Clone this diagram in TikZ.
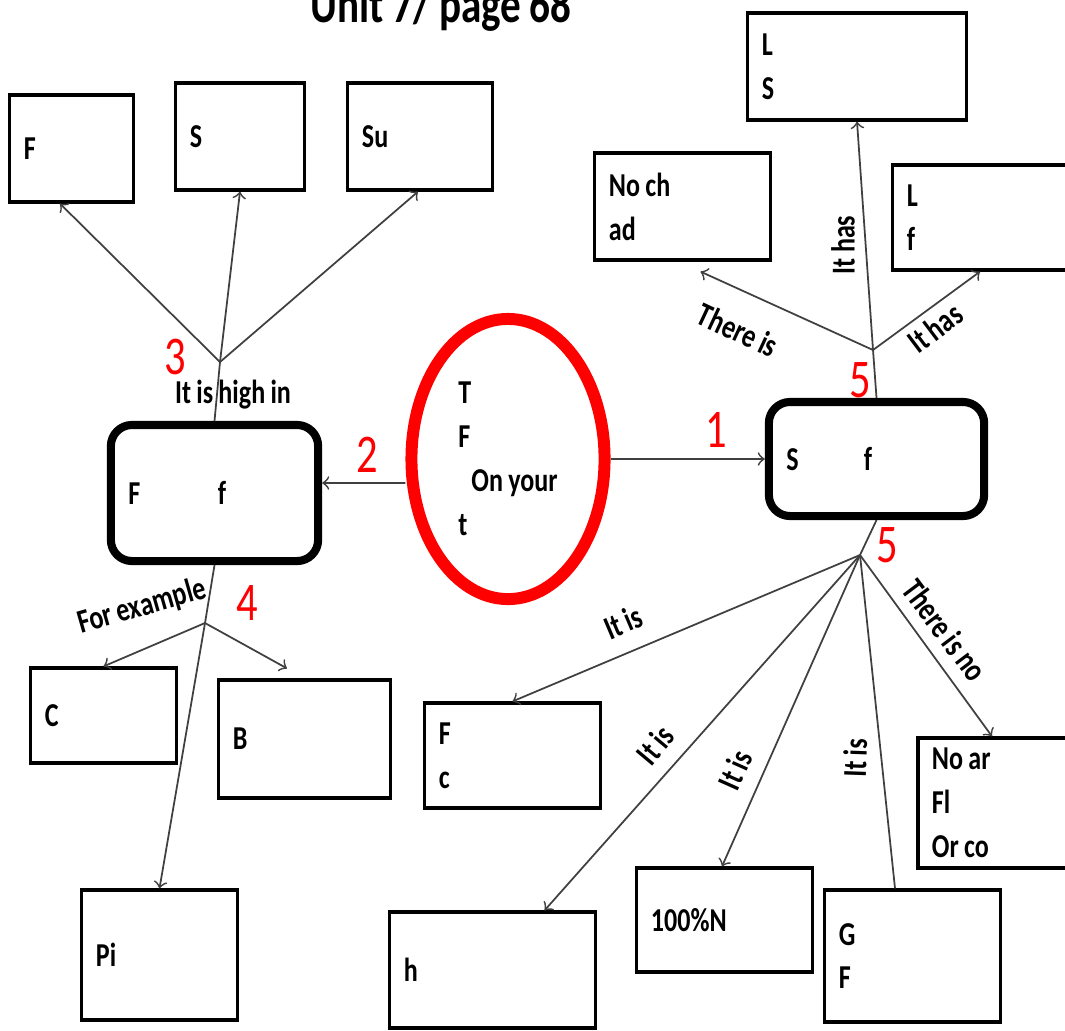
\documentclass[tikz,border=0pt]{standalone}
\usepackage{fontspec}
\setmainfont{Carlito}[FakeStretch=0.78, WordSpace=0.9]
\usetikzlibrary{shapes.geometric}

\begin{document}
\begin{tikzpicture}[x=0.01cm, y=-0.01cm,
    every node/.style={font=\fontsize{9.5}{12.5}\selectfont\bfseries, execute at begin node={\spaceskip=0pt\relax}},
    box/.style={draw, line width=0.9pt, align=left, inner xsep=4pt, inner ysep=0pt},
    rbox/.style={draw, line width=2.3pt, rounded corners=6pt, align=left, inner xsep=5pt, inner ysep=0pt},
    num/.style={text=red, font=\fontsize{15.5}{17}\selectfont},
    lbl/.style={inner sep=1pt},
    arr/.style={->, draw=black!75, line width=0.5pt},
    link/.style={draw=black!75, line width=0.5pt}]
				\useasboundingbox (0,0) rectangle (1065,1030);
				\node[anchor=base] (title) at (441,22) {\fontsize{15}{17}\selectfont\bfseries Unit 7/ page 68};

				% centre
				\node[ellipse, draw=red, line width=3.4pt, minimum width=1.93cm, minimum height=2.80cm, align=left, inner sep=0pt] (circ) at (508,459) {T\\F\\\hspace*{3.7pt}On your\hspace*{8.5pt}\\t};
				\node[rbox, text width=1.72cm, minimum height=1.36cm] (rndF) at (214.5,493) {F\hspace{22pt}f};
				\node[rbox, text width=1.80cm, minimum height=1.14cm] (rndS) at (876.5,459) {S\hspace{18.5pt}f};
				\draw[arr] ([yshift=-0.24cm]circ.west) -- ([yshift=0.1cm]rndF.east);
				\draw[arr] (circ.east) -- (rndS.west);
				\node[num] (n2) at (367,455) {2};
				\node[num] (n1) at (716,430) {1};

				% left top
				\node[box, text width=0.95cm, minimum height=1.07cm] (boxF) at (71.5,148.5) {F};
				\node[box, text width=1.00cm, minimum height=1.07cm] (boxS) at (240,136.5) {S};
				\node[box, text width=1.16cm, minimum height=1.07cm] (boxSu) at (420,136.5) {Su};
				\coordinate (fanL) at (220,362);
				\draw[link] (rndF.north) -- (fanL);
				\draw[arr] (fanL) -- ([xshift=-0.115cm]boxF.south);
				\draw[arr] (fanL) -- (boxS.south);
				\draw[arr] (fanL) -- ([xshift=-0.02cm]boxSu.south);
				\node[num] (n3) at (175,357) {3};
				\node[lbl] (highIn) at (233,395) {It is high in};

				% left bottom
				\node[box, text width=1.17cm, minimum height=0.95cm] (boxC) at (103.5,715.5) {C};
				\node[box, text width=1.43cm, minimum height=1.18cm] (boxB) at (304.5,739) {B};
				\node[box, text width=1.27cm, minimum height=1.30cm] (boxPi) at (159.5,955) {Pi};
				\coordinate (fanE) at (205,623);
				\draw[arr] (rndF.south) -- (fanE) -- (boxPi.north);
				\draw[arr] (fanE) -- (boxC.north);
				\draw[arr] (fanE) -- ([xshift=-0.175cm, yshift=0.1cm]boxB.north);
				\node[lbl, rotate=16] (forEx) at (142,607) {For example};
				\node[num] (n4) at (247,603) {4};

				% right top
				\node[box, text width=1.90cm, minimum height=1.07cm] (boxLS) at (857,66.5) {L\\S};
				\node[box, text width=1.47cm, minimum height=1.07cm] (boxNoch) at (682.5,206.5) {No ch\\ad};
				\node[box, text width=1.54cm, minimum height=1.05cm] (boxLf) at (984,217.5) {L\\f};
				\coordinate (fanR) at (873,350);
				\draw[link] (rndS.north) -- (fanR);
				\draw[arr] (fanR) -- ([xshift=0.18cm, yshift=-0.1cm]boxNoch.south);
				\draw[arr] (fanR) -- (boxLS.south);
				\draw[arr] (fanR) -- ([xshift=-0.04cm]boxLf.south);
				\node[lbl, rotate=-25] (thereIs) at (738,330) {There is};
				\node[lbl, rotate=90] (hasUp) at (843,245) {It has};
				\node[lbl, rotate=37] (hasRight) at (935,328) {It has};
				\node[num] (n5a) at (860,380) {5};

				% right bottom
				\node[box, text width=1.47cm, minimum height=1.05cm] (boxFc) at (512.5,755.5) {F\\c};
				\node[box, text width=1.77cm, minimum height=1.16cm] (boxH) at (492.5,970) {h};
				\node[box, text width=1.47cm, minimum height=1.04cm] (boxN) at (724.5,920) {100\%N};
				\node[box, text width=1.47cm, minimum height=1.32cm] (boxGF) at (912.5,956) {G\\F};
				\node[box, text width=1.29cm, minimum height=1.30cm] (boxNoar) at (996.5,803) {No ar\\Fl\\Or co};
				\coordinate (fanB) at (860,555);
				\draw[link] (rndS.south) -- (fanB);
				\draw[arr] (fanB) -- (boxFc.north);
				\draw[arr] (fanB) -- ([xshift=0.52cm]boxH.north);
				\draw[arr] (fanB) -- ([xshift=-0.025cm]boxN.north);
				\draw[link] (fanB) -- ([xshift=-0.175cm]boxGF.north);
				\draw[arr] (fanB) -- ([xshift=-0.045cm]boxNoar.north);
				\node[lbl, rotate=23] (isFc) at (623,622) {It is};
				\node[lbl, rotate=50] (isH) at (655,745) {It is};
				\node[lbl, rotate=66] (isN) at (735,770) {It is};
				\node[lbl, rotate=88] (isGF) at (855,758) {It is};
				\node[lbl, rotate=-53] (thereNo) at (945,630) {There is no};
				\node[num] (n5b) at (887,545) {5};
			\end{tikzpicture}
\end{document}
